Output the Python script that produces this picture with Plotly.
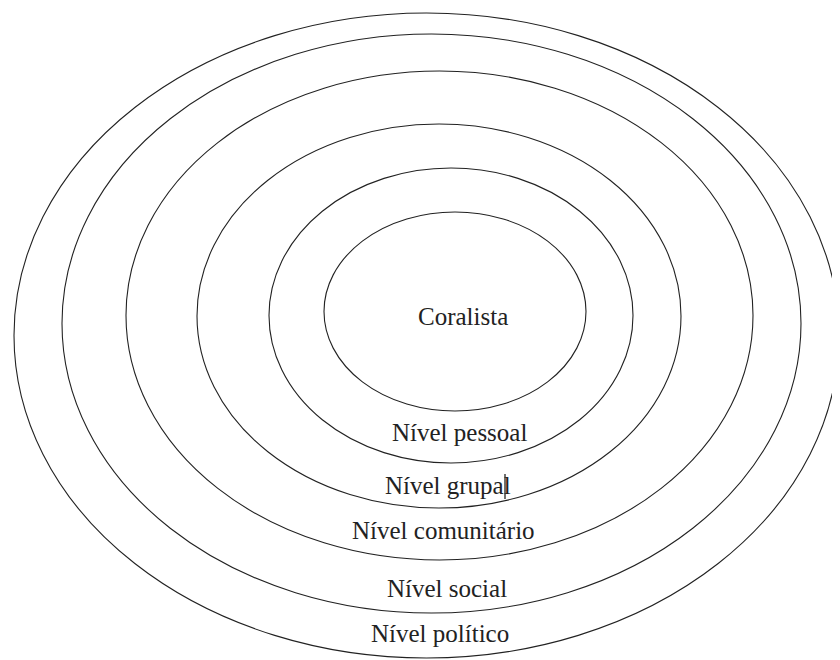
import plotly.graph_objects as go

# Ellipse bounds (image-like coordinates, y grows downward)
ring_names = ["Coralista", "Nível pessoal", "Nível grupal", "Nível comunitário", "Nível social", "Nível político"]
ring_left = [324, 269, 197, 126, 62, 14]
ring_right = [586, 633, 681, 753, 801, 839]
ring_top = [212, 168, 124, 71, 34, 13]
ring_bottom = [411, 463, 508, 560, 613, 658]

# Label positions
label_x = [463, 459, 448, 443, 447, 440]
label_y = [316, 432, 485, 530, 588, 633]

# page offset of the plot (browser default body margin)
OFF = 8

fig = go.Figure()

shapes = []
for l, r, t, b in zip(ring_left, ring_right, ring_top, ring_bottom):
    shapes.append(dict(type="circle", xref="x", yref="y", x0=l, x1=r, y0=t, y1=b,
                       line=dict(color="#222222", width=1.1)))
# text cursor artifact next to "grupal"
shapes.append(dict(type="line", xref="x", yref="y", x0=505, x1=505, y0=474, y1=499,
                   line=dict(color="#111111", width=1.2)))

annotations = []
for name, x, y in zip(ring_names, label_x, label_y):
    annotations.append(dict(x=x, y=y, xref="x", yref="y", text=name, showarrow=False,
                            font=dict(family="Liberation Serif", size=25, color="#222222"),
                            xanchor="center", yanchor="middle"))

fig.add_trace(go.Scatter(x=[OFF, 840], y=[OFF, 660], mode="markers", marker=dict(opacity=0),
                         hoverinfo="skip", showlegend=False))

fig.update_layout(
    width=840 - OFF, height=660 - OFF,
    margin=dict(l=0, r=0, t=0, b=0),
    paper_bgcolor="white", plot_bgcolor="white",
    shapes=shapes, annotations=annotations,
    xaxis=dict(range=[OFF, 840], visible=False, fixedrange=True),
    yaxis=dict(range=[660, OFF], visible=False, fixedrange=True),
    showlegend=False,
)

fig.write_html("out.html")
